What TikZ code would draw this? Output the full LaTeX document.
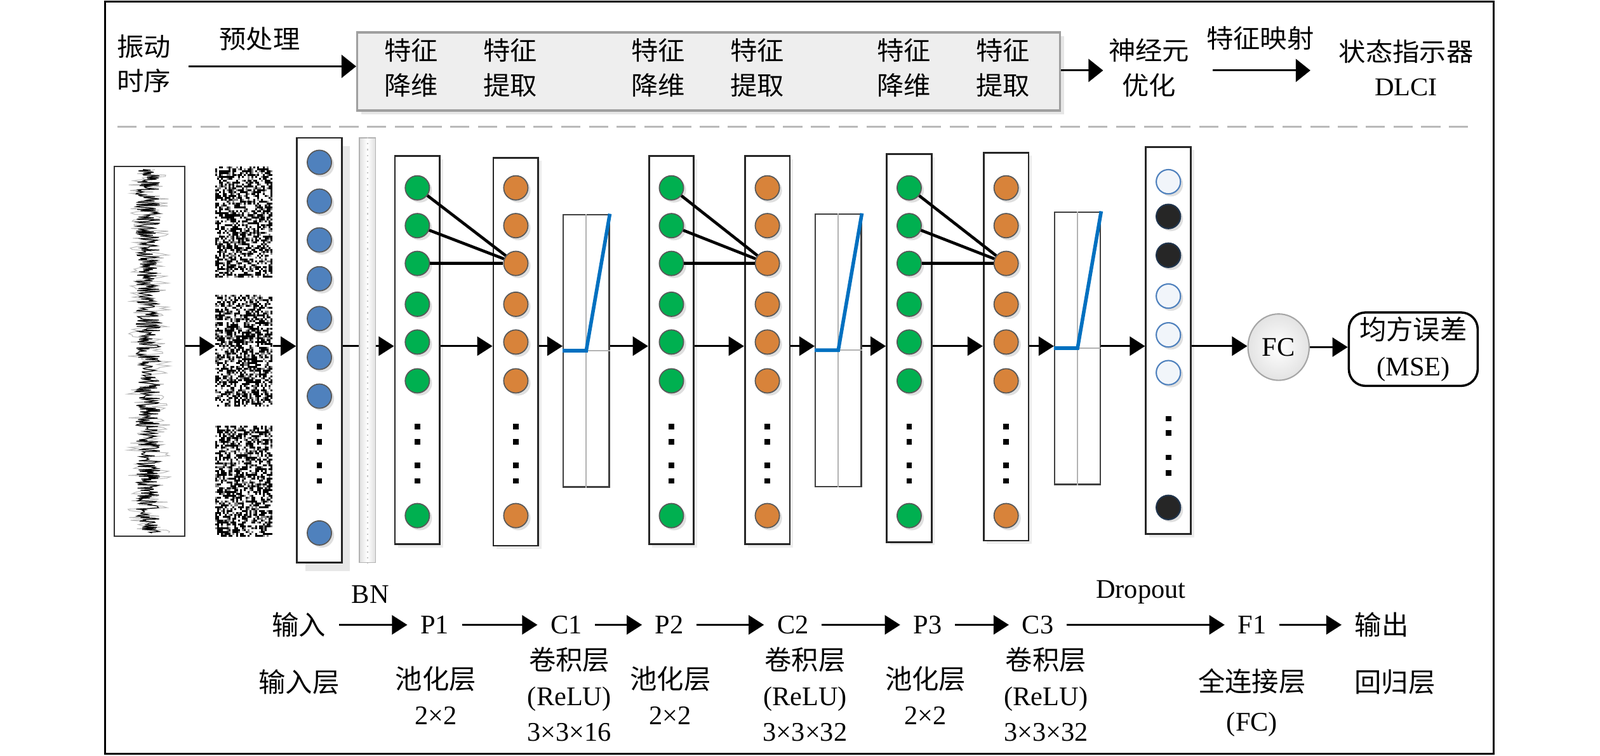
\documentclass[tikz,border=0pt]{standalone}
\usepackage{fontspec}
\setmainfont{Liberation Serif}
\newfontfamily\cjk{Noto Sans CJK SC}
\usepackage{graphicx}
\usepackage{tikz}
\definecolor{cc}{RGB}{238, 238, 238}
\definecolor{nBlue}{RGB}{79, 129, 189}
\definecolor{nGreen}{RGB}{0, 176, 80}
\definecolor{nOrange}{RGB}{216, 131, 58}
\definecolor{nDark}{RGB}{38, 38, 38}
\definecolor{nWhite}{RGB}{241, 245, 250}
\definecolor{rBlue}{RGB}{0, 112, 192}
\usetikzlibrary{arrows.meta}
\usetikzlibrary{shadows}
\usetikzlibrary{shapes.geometric}
\newcommand{\sqz}[1]{\scalebox{1}[0.95]{\begin{tabular}{@{}c@{}}#1\end{tabular}}}

\begin{document}
\begin{tikzpicture}
		[x=0.16mm, y=-0.16mm, every node/.style={inner sep=0pt},
		txt/.style={font=\fontsize{12}{16}\selectfont, align=center},
		toptxt/.style={font=\fontsize{12}{16.3}\selectfont\cjk},
		brow/.style={txt, inner xsep=2mm},
		arr/.style={-{Triangle[length=2.4mm,width=3mm]}, line width=0.8pt},
		toparr/.style={-{Triangle[length=2.3mm,width=3.6mm]}, line width=0.9pt},
		colbase/.style={rectangle, draw=black!85, line width=0.8pt, fill=white, minimum width=7.04mm, minimum height=60.8mm},
		col/.style={colbase, drop shadow={opacity=0.15, shadow xshift=0.5mm, shadow yshift=-0.5mm}},
		relu/.style={rectangle, draw=black!75, line width=0.6pt, fill=white, minimum width=7.2mm, minimum height=42.7mm},
		neu/.style={circle, minimum size=3.8mm, draw=gray!70!black, line width=0.5pt, drop shadow={opacity=0.25, shadow xshift=0.4mm, shadow yshift=-0.4mm}},
		bN/.style={neu, fill=nBlue}, gN/.style={neu, fill=nGreen}, oN/.style={neu, fill=nOrange},
		wN/.style={neu, fill=nWhite, draw=nBlue, line width=0.6pt},
		dN/.style={neu, fill=nDark, draw=nBlue!40!black, line width=0.6pt},
		con/.style={line width=1.3pt},
		rline/.style={rBlue, line width=1.6pt}]
		\useasboundingbox (0,0) rectangle (1568,740);
		\draw [line width=0.9pt] (103,1.5) rectangle (1464,738.5);
		\coordinate (ml) at (0,339);

		\node (vib) [toptxt] at (141,65) {\sqz{振动\\时序}};
		\node (pre) [toptxt] at (254.5,41) {\sqz{预处理}};
		\node (feat) [rectangle, draw=gray!75, line width=1pt, fill=cc, minimum width=110.2mm, minimum height=12.2mm, drop shadow={opacity=0.2, shadow xshift=0.6mm, shadow yshift=-0.6mm}] at (694.5,70) {};
		\foreach \xx/\w [count=\k] in {403/降维, 500/提取, 645/降维, 742/提取, 886/降维, 983/提取}
			\node (ft\k) [toptxt] at (\xx,69) {\sqz{特征\\\w}};
		\node (opt) [toptxt] at (1126,69) {\sqz{神经元\\优化}};
		\node (map) [toptxt] at (1235,40) {\sqz{特征映射}};
		\node (dlci) [toptxt] at (1378,70) {\sqz{状态指示器\\{\rmfamily DLCI}}};
		\draw [toparr] ([xshift=2.7mm]vib.east) to (vib.east -| feat.west);
		\draw [toparr] (feat.east |- opt.west) to ([xshift=-0.8mm]opt.west);
		\draw [toparr] ([xshift=3.6mm]opt.east) to ([xshift=-4.4mm]opt.east -| dlci.west);
		\draw [gray!55, line width=0.8pt, dash pattern=on 3mm off 1.35mm] (115,124) to (1444,124);

		\draw [gray!55, line width=0.3pt] plot [variable=\t, domain=166:522, samples=260] ({146+21*rand}, \t);
		\draw [black, line width=0.35pt] plot [variable=\t, domain=166:522, samples=520] ({145+12*rand}, \t);
		\node (sig) [draw=black!80, line width=0.5pt, minimum width=11.04mm, minimum height=57.92mm] at (146.5,344) {};

		\pgfmathsetseed{7}
		\foreach \yb in {163,289,417} {
			\fill [black] (211,\yb) rectangle (267,\yb+109);
			\foreach \i in {0,...,29} {
				\foreach \j in {0,...,57} {
					\pgfmathsetmacro\rr{rnd}
					\ifdim\rr pt>0.56pt
						\fill [white] (211+1.87*\i,\yb+1.88*\j) rectangle ++(1.87,1.88);
					\else\ifdim\rr pt>0.44pt
						\fill [gray] (211+1.87*\i,\yb+1.88*\j) rectangle ++(1.87,1.88);
					\fi\fi
				}
			}
		}
		\node (nz1) [minimum width=8.96mm, minimum height=17.44mm] at (239,217.5) {};
		\node (nz2) [minimum width=8.96mm, minimum height=17.44mm] at (239,343.5) {};
		\node (nz3) [minimum width=8.96mm, minimum height=17.44mm] at (239,471) {};

		\node (b0) [colbase, minimum height=66.56mm, drop shadow={fill=gray!35, opacity=0.5, shadow xshift=1.3mm, shadow yshift=-1.3mm}] at (313,343) {};
		\foreach \yy [count=\k] in {159,197,235,273,312,350,388,522}
			\node (b0-\k) [bN] at (313,\yy) {};
		\node (bn) [rectangle, draw=gray!60, line width=0.5pt, left color=gray!25, right color=gray!25, middle color=white, minimum width=2.56mm, minimum height=66.56mm] at (360,343) {};
		\draw [gray!45, line width=0.6pt, dotted] (bn.north) to (bn.south);

		\foreach \cn/\xx/\yc/\st in {p1/409/343/gN, c1/505.5/344.5/oN, p2/658/343/gN, c2/752/343/oN, p3/891/341/gN, c3/986/339.5/oN} {
			\node (\cn) [col] at (\xx,\yc) {};
			\foreach \yy [count=\k] in {184,221,258,298,335,373,505}
				\node (\cn-\k) [\st] at (\xx,\yy) {};
		}
		\node (dp) [col, minimum height=60.64mm] at (1145,333.5) {};
		\foreach \yy/\st [count=\k] in {178/wN, 212/dN, 250/dN, 290/wN, 328/wN, 365/wN, 497/dN}
			\node (dp-\k) [\st] at (1145,\yy) {};
		\foreach \xx in {313,409,505.5,658,752,891,986}
			\foreach \yy in {418,433,456,471}
				\fill (\xx-2.75,\yy-2.75) rectangle ++(5.5,5.5);
		\foreach \yy in {410,424,448,463}
			\fill (1142.25,\yy-2.75) rectangle ++(5.5,5.5);
		\foreach \a/\b in {p1/c1, p2/c2, p3/c3}
			\foreach \k in {1,2,3}
				\draw [con] (\a-\k) to (\b-3);

		\foreach \rn/\xx/\yc in {r1/574.5/343.5, r2/821.5/343, r3/1056/341} {
			\node (\rn) [relu] at (\xx,\yc) {};
			\draw [gray!60, line width=0.6pt] (\rn.north) to (\rn.south);
			\draw [gray!60, line width=0.6pt] (\rn.center) to (\rn.east);
			\draw [rline] (\rn.west) to (\rn.center) to (\rn.north east);
		}

		\node (fc) [ellipse, draw=gray!70, line width=0.6pt, inner color=white, outer color=gray!22, minimum width=9.6mm, minimum height=10.4mm, font=\fontsize{12}{14}\selectfont] at (1253,340) {FC};
		\node (mse) [txt, rectangle, rounded corners=2.6mm, draw=black, line width=1pt, minimum width=20.2mm, minimum height=11.5mm] at (1385,342) {{\cjk 均方误差}\\(MSE)};

		\foreach \a/\b in {sig/nz2, nz2/b0, bn/p1, p1/c1, c1/r1, r1/p2, p2/c2, c2/r2, r2/p3, p3/c3, c3/r3, r3/dp, dp/fc}
			\draw [arr] (\a.east |- ml) to (\b.west |- ml);
		\draw [line width=0.8pt] (b0.east |- ml) to (bn.west |- ml);
		\draw [arr] (fc.east) to (fc.east -| mse.west);

		\node (bIn) [brow] at (293,612) {\cjk 输入};
		\node (bP1) [brow] at (426,612) {P1};
		\node (bC1) [brow] at (555,612) {C1};
		\node (bP2) [brow] at (656,612) {P2};
		\node (bC2) [brow] at (777,612) {C2};
		\node (bP3) [brow] at (909,612) {P3};
		\node (bC3) [brow] at (1017,612) {C3};
		\node (bF1) [brow] at (1227,612) {F1};
		\node (bOut) [brow] at (1354,612) {\cjk 输出};
		\foreach \a/\b in {bIn/bP1, bP1/bC1, bC1/bP2, bP2/bC2, bC2/bP3, bP3/bC3, bC3/bF1, bF1/bOut}
			\draw [arr] (\a) to (\b);
		\node (lBN) [txt] at (363,582) {BN};
		\node (lDp) [txt] at (1118,580) {Dropout};
		\node (lIn) [txt] at (293,668) {\cjk 输入层};
		\node (lP1) [txt] at (427,681) {{\cjk 池化层}\\2×2};
		\node (lC1) [txt] at (558,680) {{\cjk 卷积层}\\(ReLU)\\3×3×16};
		\node (lP2) [txt] at (657,681) {{\cjk 池化层}\\2×2};
		\node (lC2) [txt] at (789,680) {{\cjk 卷积层}\\(ReLU)\\3×3×32};
		\node (lP3) [txt] at (907,681) {{\cjk 池化层}\\2×2};
		\node (lC3) [txt] at (1025,680) {{\cjk 卷积层}\\(ReLU)\\3×3×32};
		\node (lF1) [txt, font=\fontsize{12}{17.5}\selectfont] at (1227,688) {{\cjk 全连接层}\\(FC)};
		\node (lOut) [txt] at (1367,668) {\cjk 回归层};
\end{tikzpicture}
\end{document}
